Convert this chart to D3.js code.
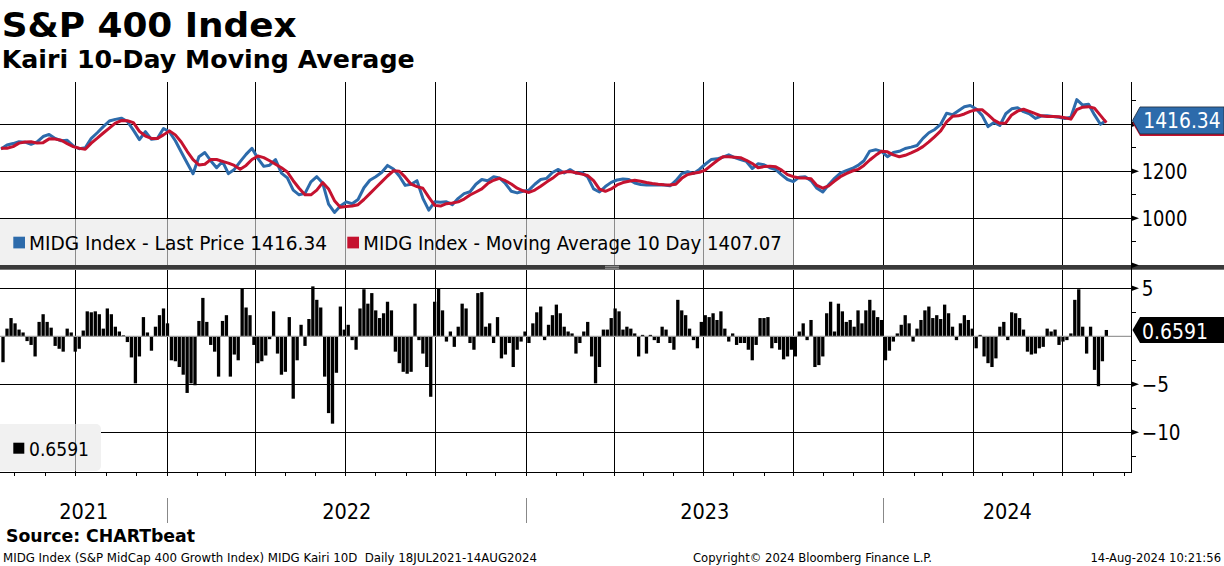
<!DOCTYPE html>
<html><head><meta charset="utf-8">
<script src="https://cdn.jsdelivr.net/npm/d3@7"></script>
<style>
html,body{margin:0;padding:0;background:#fff;}
svg{display:block;font-family:"DejaVu Sans Condensed","DejaVu Sans",sans-serif;font-stretch:condensed;}
</style></head><body>
<svg id="c" width="1224" height="566"></svg>
<script>
// ---------------- DATA ----------------
const startDate = "2021-07-18";
const endDate = "2024-08-14";
const priceStepDays = 6, priceOffsetDays = 1;
const priceValues = [
1295,1312,1318,1326,1324,1315,1325,1348,1357,1340,
1330,1332,1308,1296,1300,1340,1364,1390,1414,1421,
1426,1412,1375,1335,1369,1336,1340,1382,1368,1330,
1282,1235,1190,1262,1280,1245,1215,1242,1190,1208,
1241,1272,1298,1255,1221,1226,1250,1192,1172,1120,
1100,1106,1155,1177,1150,1060,1025,1052,1070,1062,
1080,1130,1162,1177,1195,1225,1210,1180,1140,1145,
1160,1085,1035,1070,1068,1070,1058,1085,1105,1113,
1145,1165,1160,1177,1172,1148,1115,1108,1115,1120,
1145,1165,1170,1195,1208,1193,1207,1192,1195,1175,
1125,1112,1135,1153,1163,1167,1165,1150,1144,1142,
1142,1142,1142,1138,1160,1190,1198,1191,1208,1230,
1250,1253,1260,1270,1258,1250,1242,1212,1232,1228,
1215,1207,1185,1165,1156,1175,1177,1160,1128,1112,
1143,1170,1192,1203,1212,1225,1245,1286,1292,1285,
1262,1280,1285,1297,1303,1310,1340,1364,1378,1400,
1447,1441,1458,1475,1480,1465,1438,1390,1408,1395,
1445,1466,1470,1454,1445,1425,1435,1436,1433,1430,
1425,1430,1505,1482,1485,1440,1400,1416.34];
const maValues = [
1298,1298,1305,1320,1325,1326,1320,1322,1338,1337,
1332,1318,1305,1298,1294,1320,1341,1363,1384,1405,
1416,1415,1407,1370,1350,1340,1340,1355,1372,1355,
1325,1285,1250,1227,1230,1250,1250,1242,1235,1225,
1209,1225,1250,1265,1258,1245,1230,1215,1197,1160,
1128,1100,1100,1120,1152,1125,1075,1047,1050,1052,
1058,1080,1105,1130,1155,1180,1202,1200,1175,1145,
1135,1128,1090,1055,1052,1062,1065,1070,1082,1099,
1112,1125,1148,1162,1170,1160,1146,1128,1117,1110,
1120,1136,1154,1170,1190,1197,1199,1194,1188,1182,
1160,1124,1115,1125,1142,1152,1158,1162,1158,1152,
1148,1145,1143,1142,1145,1170,1186,1192,1196,1205,
1225,1245,1262,1262,1260,1258,1247,1233,1215,1220,
1222,1219,1205,1186,1177,1172,1171,1168,1140,1128,
1138,1158,1177,1190,1201,1208,1225,1248,1268,1285,
1283,1270,1262,1268,1278,1290,1305,1325,1348,1372,
1410,1434,1436,1444,1455,1462,1462,1441,1418,1404,
1406,1440,1456,1464,1455,1445,1436,1433,1433,1432,
1428,1422,1462,1473,1475,1468,1438,1407.07];
const kairiStepDays = 4, kairiOffsetDays = 3;
const kairiValues = [
-2.7,0.8,1.9,1.35,0.7,0.4,-0.5,-0.9,-2.1,1.5,
2.3,1.5,0.9,-1.0,-1.3,-1.6,0.8,0.4,-1.6,-1.3,
0.6,2.6,2.5,2.6,2.3,0.8,2.9,2.3,1.0,0.5,
0.1,-0.6,-2.2,-4.9,-2.1,2.0,0.4,-1.5,1.0,2.2,
2.9,1.35,-2.5,-2.6,-3.2,-4.0,-5.9,-4.9,-5.1,1.6,
4.0,1.5,-0.9,-1.6,-4.2,1.6,2.2,-4.2,-1.9,-2.5,
5.0,3.0,2.2,-0.9,-2.8,-2.6,-2.0,-0.3,2.6,-1.8,
-4.0,-3.7,2.0,-6.5,-2.5,1.2,-1.0,1.8,5.2,3.8,
3.0,-4.2,-8.0,-9.1,-3.8,3.1,0.7,1.2,-0.4,-1.4,
2.9,4.9,3.4,4.5,2.7,1.9,2.4,3.6,2.7,-1.6,
-2.8,-3.7,-3.9,-3.7,3.4,-0.4,-1.8,-3.2,-6.3,3.6,
5.0,2.7,-0.55,0.5,-1.1,1.0,3.4,2.9,-0.7,-1.4,
4.5,4.6,1.0,1.35,-0.7,2.0,-2.3,-1.9,-0.7,-3.2,
-1.4,-0.55,0.5,-0.7,1.35,2.5,3.1,-0.4,1.2,2.2,
3.3,2.4,1.0,0.5,0.3,-1.8,-0.7,0.5,1.5,-2.1,
-4.9,-3.2,0.7,0.7,1.9,2.9,2.6,0.7,1.0,0.8,
0.3,-2.1,0.15,-1.8,0.15,-0.4,-0.7,1.0,0.7,-0.7,
-1.4,3.8,2.7,2.2,0.8,-0.4,-1.25,1.5,2.2,2.0,
2.4,1.7,2.6,0.8,-0.55,0.3,-0.9,-0.7,-0.7,-1.4,
-2.5,-0.9,1.9,1.9,2.0,-1.25,-0.7,-1.4,-2.4,-2.1,
-1.4,-2.1,0.5,1.35,-0.4,1.7,-3.2,-3.0,-2.1,2.4,
3.6,0.5,3.4,2.6,1.5,1.7,1.0,2.7,1.35,2.7,
3.8,2.7,2.0,1.7,-2.5,-1.5,-0.55,0.3,1.2,2.2,
1.35,-0.55,0.8,1.7,2.7,3.1,1.9,2.2,1.8,3.3,
2.4,1.0,-0.4,1.35,2.2,1.7,0.8,-1.25,0.15,-2.1,
-2.8,-3.2,-2.3,1.0,1.5,-0.4,2.5,2.4,1.9,0.7,
-1.6,-1.9,-1.8,-1.25,-1.1,0.8,0.5,0.7,-0.9,-0.55,
-0.4,0.3,3.8,4.9,1.0,-1.8,1.0,-3.5,-5.2,-2.6,0.6591];
const priceGridTicks = [1000, 1200, 1400];
const priceLabelTicks = [1000, 1200];
const priceMinorTicks = [900, 1100, 1300, 1500];
const kairiMajorTicks = [5, -5, -10];
const kairiMinorTicks = [2.5, -2.5, -7.5, -12.5];
const yearLabels = ["2021", "2022", "2023", "2024"];
const lastPrice = 1416.34, lastMA = 1407.07, lastKairi = 0.6591;
const seriesNames = ["MIDG Index - Last Price", "MIDG Index - Moving Average 10 Day"];
const axisAnchorDates = ["2021-07-18", "2022-01-01", "2023-01-01", "2024-01-01", "2024-09-08"];

// ---------------- LAYOUT ----------------
const BLUE = "#2d6bab", RED = "#c5122f";
const plotR = 1131, upTop = 82, upBot = 265, loTop = 270, loBot = 472;
const parse = d3.utcParse("%Y-%m-%d");
const t0 = parse(startDate);
const priceDates = priceValues.map((_, i) => d3.utcDay.offset(t0, priceOffsetDays + priceStepDays * i));
const kairiDates = kairiValues.map((_, i) => d3.utcDay.offset(t0, kairiOffsetDays + kairiStepDays * i));

const x = d3.scaleUtc().domain(axisAnchorDates.map(parse)).range([0, 167.5, 526, 883.5, plotR]);
const yP = d3.scaleLinear().domain([1000, 1400]).range([218.3, 124.3]);
const yK = d3.scaleLinear().domain([-5, 5]).range([384.3, 288.3]);

const svg = d3.select("#c");
function fit(sel, w) {
  const L = sel.node().getComputedTextLength();
  if (Math.abs(L - w) > 1) sel.attr("textLength", w).attr("lengthAdjust", "spacingAndGlyphs");
  return sel;
}
const defs = svg.append("defs");
defs.append("clipPath").attr("id", "cu").append("rect").attr("x", 0).attr("y", upTop).attr("width", plotR).attr("height", upBot - upTop);
defs.append("clipPath").attr("id", "cl").append("rect").attr("x", 0).attr("y", loTop).attr("width", plotR).attr("height", loBot - loTop);

const quarters = d3.utcMonth.every(3).range(parse("2021-09-01"), parse("2024-07-02"));
const months = d3.utcMonth.range(parse("2021-07-20"), parse("2024-09-05"));

// horizontal gridlines
const g = svg.append("g").attr("stroke", "#000").attr("stroke-width", 1).attr("shape-rendering", "crispEdges");
g.selectAll(".hp").data(priceGridTicks).join("line")
  .attr("x1", 0).attr("x2", plotR).attr("y1", d => yP(d)).attr("y2", d => yP(d));
g.selectAll(".hk").data(kairiMajorTicks).join("line")
  .attr("x1", 0).attr("x2", plotR).attr("y1", d => yK(d)).attr("y2", d => yK(d));
// vertical quarter gridlines
g.selectAll(".vq").data(quarters).join("line")
  .attr("x1", d => x(d)).attr("x2", d => x(d)).attr("y1", upTop).attr("y2", loBot);

// legend boxes
function legendBox(x0, y0, w, h, rx) {
  svg.append("rect").attr("x", x0).attr("y", y0).attr("width", w).attr("height", h).attr("rx", rx).attr("fill", "#f1f1f1");
  svg.append("g").attr("stroke", "#8c8c8c").attr("shape-rendering", "crispEdges")
    .selectAll("line").data(quarters.filter(d => x(d) > x0 + 1 && x(d) < x0 + w - 1)).join("line")
    .attr("x1", d => x(d)).attr("x2", d => x(d)).attr("y1", y0).attr("y2", y0 + h);
}
legendBox(0, 219, 793.5, 46, 0);

// price and MA lines
const lineP = d3.line().x((d, i) => x(priceDates[i])).y(d => yP(d)).curve(d3.curveLinear);
const lu = svg.append("g").attr("clip-path", "url(#cu)");
lu.append("path").datum(priceValues).attr("d", lineP).attr("fill", "none").attr("stroke", BLUE).attr("stroke-width", 3).attr("stroke-linejoin", "round");
lu.append("path").datum(maValues).attr("d", lineP).attr("fill", "none").attr("stroke", RED).attr("stroke-width", 3).attr("stroke-linejoin", "round");

// upper legend content
const lgY = 250;
svg.append("rect").attr("x", 13.3).attr("y", 236.7).attr("width", 11.7).attr("height", 11.7).attr("fill", BLUE);
fit(svg.append("text").attr("x", 29).attr("y", lgY).attr("font-size", 19.6).attr("fill", "#000")
  .text(seriesNames[0] + " " + d3.format(".2f")(lastPrice)), 298);
svg.append("rect").attr("x", 347.3).attr("y", 236.7).attr("width", 11.7).attr("height", 11.7).attr("fill", RED);
fit(svg.append("text").attr("x", 363.3).attr("y", lgY).attr("font-size", 19.6).attr("fill", "#000")
  .text(seriesNames[1] + " " + d3.format(".2f")(lastMA)), 418.5);

// kairi bars
const bw = 3.3;
const lb = svg.append("g").attr("clip-path", "url(#cl)");
lb.selectAll("rect").data(kairiValues).join("rect")
  .attr("x", (d, i) => x(kairiDates[i]) - bw / 2).attr("width", bw)
  .attr("y", d => yK(Math.max(0, d))).attr("height", d => Math.abs(yK(d) - yK(0)))
  .attr("fill", "#000");
svg.append("line").attr("x1", 0).attr("x2", plotR).attr("y1", yK(0)).attr("y2", yK(0))
  .attr("stroke", "#9a9a9a").attr("stroke-width", 1.3);

// lower legend
legendBox(-6, 424, 107, 47, 5);
svg.append("rect").attr("x", 13.3).attr("y", 442.7).attr("width", 11).attr("height", 11).attr("fill", "#000");
fit(svg.append("text").attr("x", 29).attr("y", 456).attr("font-size", 19.6).attr("fill", "#000")
  .text(d3.format(".4f")(lastKairi)), 60);

// separator
svg.append("rect").attr("x", 0).attr("y", 265).attr("width", 1224).attr("height", 4.5).attr("fill", "#3a3a3a");
svg.append("line").attr("x1", 0).attr("x2", 1224).attr("y1", 269.5).attr("y2", 269.5).attr("stroke", "#777").attr("stroke-width", 1);
svg.append("line").attr("x1", 605).attr("x2", 619).attr("y1", 266.3).attr("y2", 266.3).attr("stroke", "#bdbdbd").attr("stroke-width", 0.8);
svg.append("line").attr("x1", 605).attr("x2", 619).attr("y1", 268.2).attr("y2", 268.2).attr("stroke", "#bdbdbd").attr("stroke-width", 0.8);

// axes lines
const ax = svg.append("g").attr("stroke", "#000").attr("stroke-width", 1).attr("shape-rendering", "crispEdges");
ax.append("line").attr("x1", plotR + 0.5).attr("x2", plotR + 0.5).attr("y1", upTop).attr("y2", loBot + 0.5);
ax.append("line").attr("x1", 0).attr("x2", plotR + 1).attr("y1", loBot + 0.5).attr("y2", loBot + 0.5);
ax.selectAll(".mt").data(months).join("line")
  .attr("x1", d => x(d)).attr("x2", d => x(d)).attr("y1", loBot).attr("y2", loBot + 4);
ax.selectAll(".pm").data(priceMinorTicks).join("line")
  .attr("x1", plotR).attr("x2", plotR + 4.5).attr("y1", d => yP(d)).attr("y2", d => yP(d));
ax.selectAll(".km").data(kairiMinorTicks).join("line")
  .attr("x1", plotR).attr("x2", plotR + 4.5).attr("y1", d => yK(d)).attr("y2", d => yK(d));
const tri = y => `M${plotR},${y - 3}L${plotR + 8},${y}L${plotR},${y + 3}Z`;
svg.append("g").selectAll("path").data(priceGridTicks.concat([800])).join("path").attr("d", d => tri(yP(d))).attr("fill", "#000");
svg.append("g").selectAll("path").data(kairiMajorTicks).join("path").attr("d", d => tri(yK(d))).attr("fill", "#000");

// right axis labels
const pl = svg.append("g").attr("font-size", 20.5).attr("fill", "#000");
pl.selectAll("text").data(priceLabelTicks).join("text")
  .attr("x", 1141.7).attr("y", d => yP(d) + 7.3).text(d => d3.format("d")(d))
  .each(function () { fit(d3.select(this), 45.6); });
const kl = svg.append("g").attr("font-size", 20.5).attr("fill", "#000");
kl.selectAll("text").data(kairiMajorTicks).join("text")
  .attr("x", 1141.7).attr("y", d => yK(d) + 7.2).text(d => d3.format("d")(d));

// value labels
const vlab = (yc, half) => `M${plotR + 1.5},${yc}L${plotR + 9},${yc - half}H1224V${yc + half}H${plotR + 9}Z`;
svg.append("path").attr("d", vlab(yP(lastMA) + 0.4, 13)).attr("fill", RED);
svg.append("path").attr("d", vlab(yP(lastPrice), 13.5)).attr("fill", BLUE).attr("stroke", "#1e2a3a").attr("stroke-width", 0.8);
fit(svg.append("text").attr("x", 1143.3).attr("y", yP(lastPrice) + 8).attr("font-size", 20.5).attr("fill", "#fff")
  .text(d3.format(".2f")(lastPrice)), 77.4);
svg.append("path").attr("d", vlab(yK(lastKairi), 13)).attr("fill", "#000");
fit(svg.append("text").attr("x", 1142).attr("y", yK(lastKairi) + 9.3).attr("font-size", 20.5).attr("fill", "#fff")
  .text(d3.format(".4f")(lastKairi)), 66);

// year labels & separators
const dEnd = x.domain()[x.domain().length - 1], dStart = x.domain()[0];
yearLabels.forEach(yl => {
  const a = parse(yl + "-01-01"), b = parse((+yl + 1) + "-01-01");
  const xa = x(a < dStart ? dStart : a), xb = x(b > dEnd ? dEnd : b);
  svg.append("text").attr("x", (xa + xb) / 2).attr("y", 519).attr("text-anchor", "middle")
    .attr("font-size", 21.5).attr("fill", "#000").text(yl);
  if (a > dStart) svg.append("line").attr("x1", x(a)).attr("x2", x(a)).attr("y1", 498).attr("y2", 523)
    .attr("stroke", "#888").attr("stroke-width", 1).attr("shape-rendering", "crispEdges");
});

// titles
fit(svg.append("text").attr("x", 1.7).attr("y", 36.7).attr("font-size", 34).attr("font-weight", "bold").attr("fill", "#000")
  .text("S&P 400 Index"), 295);
fit(svg.append("text").attr("x", 1.7).attr("y", 67.7).attr("font-size", 24).attr("font-weight", "bold").attr("fill", "#000")
  .text("Kairi 10-Day Moving Average"), 413);

// footer
fit(svg.append("text").attr("x", 6).attr("y", 542.3).attr("font-size", 17).attr("font-weight", "bold").attr("fill", "#000")
  .text("Source: CHARTbeat"), 189);
fit(svg.append("text").attr("x", 3).attr("y", 561.7).attr("font-size", 12).attr("fill", "#000").attr("xml:space", "preserve")
  .text("MIDG Index (S&P MidCap 400 Growth Index) MIDG Kairi 10D  Daily 18JUL2021-14AUG2024"), 534);
fit(svg.append("text").attr("x", 693).attr("y", 561.7).attr("font-size", 12).attr("fill", "#000")
  .text("Copyright\u00A9 2024 Bloomberg Finance L.P."), 239);
fit(svg.append("text").attr("x", 1090.5).attr("y", 561.7).attr("font-size", 12).attr("fill", "#000")
  .text("14-Aug-2024 10:21:56"), 130.5);
</script>
</body></html>
